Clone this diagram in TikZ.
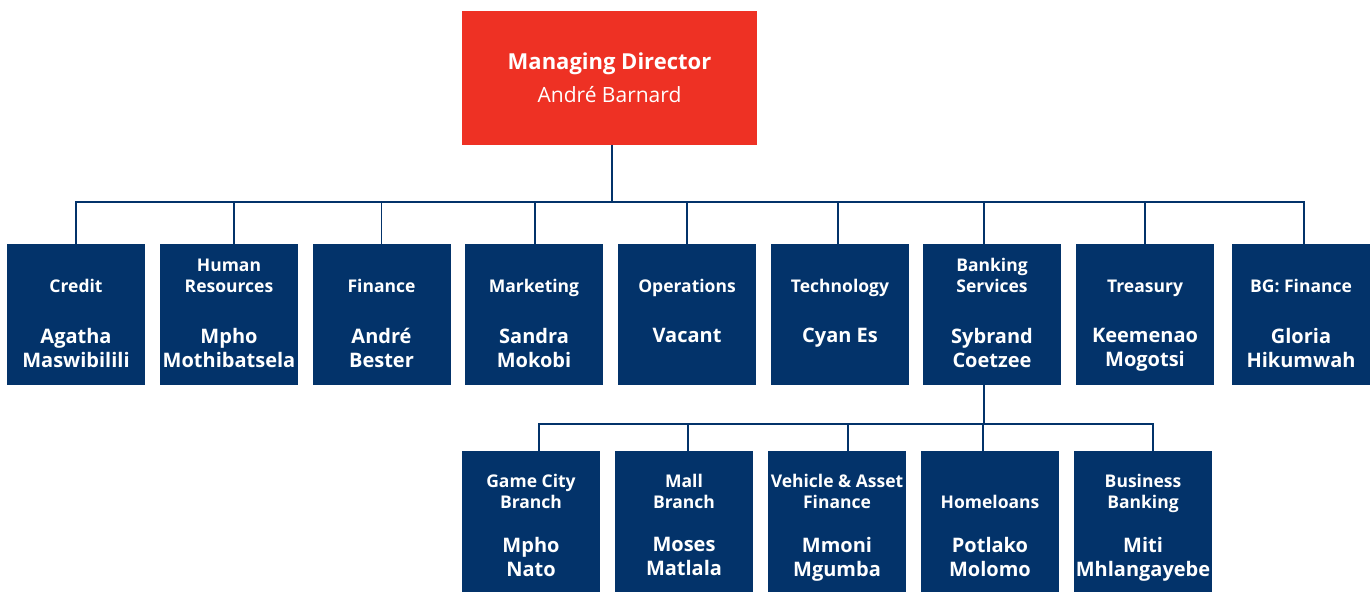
\documentclass[tikz,border=0pt]{standalone}
\usepackage{fontspec}
\setmainfont{Open Sans}

\definecolor{mdred}{HTML}{EE3124}
\definecolor{navy}{HTML}{03336A}

\tikzset{
  unit/.style={fill=navy, minimum width=69pt, minimum height=70.5pt, inner sep=0pt},
  dept/.style={text=white, font=\fontsize{8.75}{10.3}\selectfont\bfseries, align=center, anchor=base, inner sep=0pt},
  who/.style={text=white, font=\fontsize{10}{12}\selectfont\bfseries, align=center, anchor=north, inner sep=0pt},
  link/.style={draw=navy, line width=0.75pt},
}

\begin{document}
\begin{tikzpicture}[x=0.5pt, y=-0.5pt]
  \useasboundingbox (0,0) rectangle (1370,592);

  % head of the company
  \node[fill=mdred, minimum width=147.5pt, minimum height=67pt, text=white,
        align=center, font=\fontsize{10.5}{16.3}\selectfont] (md) at (609.5,78)
        {{\fontsize{11}{16.3}\selectfont\bfseries Managing Director}\\André Barnard};
  \coordinate (bus) at (612,202);

  % first level: name / x / line shift / department / person
  \foreach \n/\x/\s/\d/\w in {
      credit/76/0/Credit/{Agatha\\Maswibilili},
      hr/229/5/{Human\\Resources}/{Mpho\\Mothibatsela},
      finance/381.5/0/Finance/{André\\Bester},
      marketing/534/1/Marketing/{Sandra\\Mokobi},
      ops/687/0/Operations/Vacant,
      tech/840/-2/Technology/{Cyan Es},
      bank/992/-8/{Banking\\Services}/{Sybrand\\Coetzee},
      treasury/1145/0/Treasury/{Keemenao\\Mogotsi},
      bgfin/1301/3/{BG: Finance}/{Gloria\\Hikumwah}} {
    \node[unit] (\n) at (\x,314.5) {};
    \node[dept] (\n-d) at (\x,292.5) {\d};
    \node[who] (\n-w) at (\x,328) {\w};
    \draw[link] ([xshift=1.25pt]md.south) |- (bus) -| ([xshift=\s*0.5pt]\n.north);
  }
  \coordinate (subbus) at (984,424);

  % second level under banking services
  \foreach \n/\x/\s/\d/\w in {
      gamecity/531/8/{Game City\\Branch}/{Mpho\\Nato},
      mall/684/4/{Mall\\Branch}/{Moses\\Matlala},
      vaf/837/11/{Vehicle \& Asset\\Finance}/{Mmoni\\Mgumba},
      homeloans/990/-7/Homeloans/{Potlako\\Molomo},
      business/1143/10/{Business\\Banking}/{Miti\\Mhlangayebe}} {
    \node[unit] (\n) at (\x,522) {};
    \node[dept] (\n-d) at (\x,508.5) {\d};
    \node[who] (\n-w) at (\x,537) {\w};
    \draw[link] ([xshift=-4pt]bank.south) |- (subbus) -| ([xshift=\s*0.5pt]\n.north);
  }
\end{tikzpicture}
\end{document}
